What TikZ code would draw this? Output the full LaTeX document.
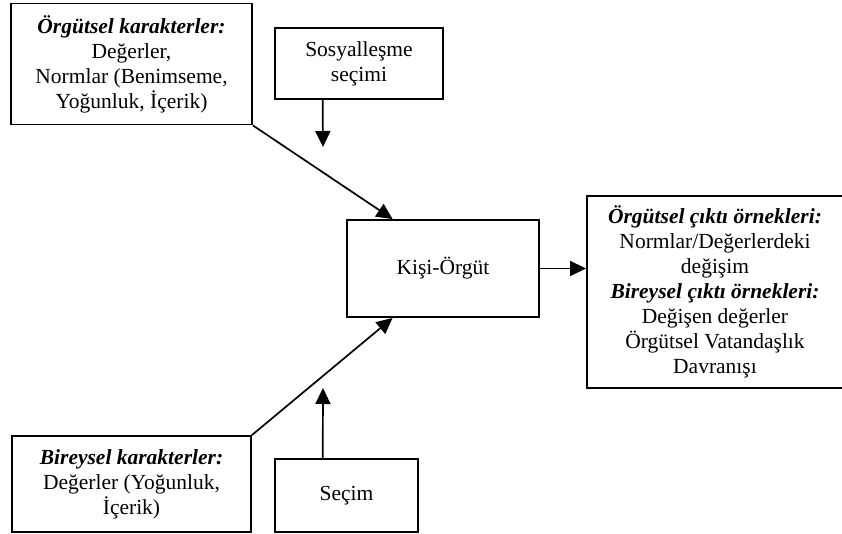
\documentclass[tikz,border=0pt]{standalone}
\usepackage{fontspec}
\setmainfont{Liberation Serif}
\usetikzlibrary{arrows.meta,calc}
\tikzset{
  box/.style={draw, line width=1.9pt, align=center, inner sep=0pt,
    font=\fontsize{21.5}{25}\selectfont},
  arr/.style={line width=1.7pt, -{Triangle[length=16pt,width=15pt]}}
}
\begin{document}
\begin{tikzpicture}[x=1pt,y=-1pt]
\useasboundingbox (0,0) rectangle (842,533);
\node[box, minimum width=241pt, minimum height=121pt] (A) at (131.5,64)
  {\textbf{\textit{Örgütsel karakterler:}}\\Değerler,\\Normlar (Benimseme,\\Yoğunluk, İçerik)};
\node[box, minimum width=168pt, minimum height=71pt] (S) at (359,63.5)
  {Sosyalleşme\\seçimi};
\node[box, minimum width=192pt, minimum height=97pt] (K) at (443,268.5)
  {Kişi-Örgüt};
\node[box, minimum width=256pt, minimum height=192pt] (R) at (715,292)
  {\textbf{\textit{Örgütsel çıktı örnekleri:}}\\Normlar/Değerlerdeki\\değişim\\\textbf{\textit{Bireysel çıktı örnekleri:}}\\Değişen değerler\\Örgütsel Vatandaşlık\\Davranışı};
\node[box, minimum width=239pt, minimum height=96pt] (B) at (131.5,484)
  {\textbf{\textit{Bireysel karakterler:}}\\Değerler (Yoğunluk,\\İçerik)};
\node[box, minimum width=143pt, minimum height=73pt] (C) at (346.5,495.5)
  {Seçim};
\coordinate (sEnd) at (323,147);
\coordinate (cEnd) at (323,388);
\draw[arr] (A.south east) -- ($(K.north west)!0.24!(K.north east)$);
\draw[arr] ($(S.south west)!0.286!(S.south east)$) -- (sEnd);
\draw[arr] (B.north east) -- ($(K.south west)!0.24!(K.south east)$);
\draw[arr] ($(C.north west)!0.336!(C.north east)$) -- (cEnd);
\draw[arr] (K.east) -- (K.east -| R.west);
\end{tikzpicture}
\end{document}
